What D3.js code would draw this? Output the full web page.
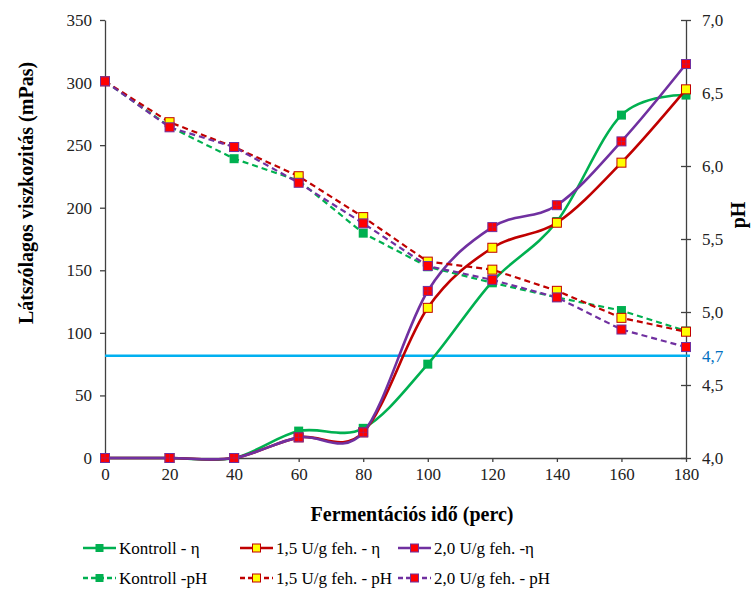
<!DOCTYPE html>
<html>
<head>
<meta charset="utf-8">
<script src="https://cdn.jsdelivr.net/npm/d3@7"></script>
<style>
  html, body { margin: 0; padding: 0; background: #fff; }
  svg { display: block; }
  text { font-family: "Liberation Serif", "Times New Roman", serif; fill: #000; }
</style>
</head>
<body>
<svg id="chart" width="752" height="590" font-family="Liberation Serif, serif"></svg>
<script>
// Fermentation time (min)
const time = [0, 20, 40, 60, 80, 100, 120, 140, 160, 180];

// Apparent viscosity (mPas), left axis
const viscKontroll = [0, 0, 0, 21.5, 23.7, 75, 141, 189, 274, 290];
const visc15 = [0, 0, 0, 16.5, 20.5, 120, 168, 188, 236, 294.6];
const visc20 = [0, 0, 0, 16.5, 20.5, 133.5, 184.5, 202, 253, 314.8];

// pH, right axis
const phKontroll = [6.58, 6.27, 6.05, 5.90, 5.54, 5.31, 5.20, 5.10, 5.01, 4.87];
const ph15 = [6.58, 6.30, 6.13, 5.93, 5.65, 5.345, 5.29, 5.145, 4.96, 4.865];
const ph20 = [6.58, 6.265, 6.13, 5.885, 5.607, 5.315, 5.22, 5.10, 4.88, 4.76];

// Reference pH level
const phLimit = 4.7;
const phLimitLabel = "4,7";

const xTicks = [0, 20, 40, 60, 80, 100, 120, 140, 160, 180];
const yLeftTicks = [0, 50, 100, 150, 200, 250, 300, 350];
const yRightTicks = [4.0, 4.5, 5.0, 5.5, 6.0, 6.5, 7.0];

const seriesNames = [
  "Kontroll - η", "1,5 U/g feh. - η", "2,0 U/g feh. -η",
  "Kontroll -pH", "1,5 U/g feh. - pH", "2,0 U/g feh. -  pH"
];

const svg = d3.select("#chart");
const serif = "Liberation Serif, Times New Roman, serif";
const fmt = d => d.toFixed(1).replace(".", ",");

const x = d3.scaleLinear().domain([0, 180]).range([105, 686]);
const yL = d3.scaleLinear().domain([0, 350]).range([458, 20]);
const yR = d3.scaleLinear().domain([4, 7]).range([458, 20]);

const axisColor = "#404040";

// Series styling
const styles = [
  { line: "#00b050", fill: "#00b050", stroke: "#00b050", dash: null, cross: false },
  { line: "#c00000", fill: "#ffff00", stroke: "#c00000", dash: null, cross: false },
  { line: "#7030a0", fill: "#ff0000", stroke: "#7030a0", dash: null, cross: true },
  { line: "#00b050", fill: "#00b050", stroke: "#00b050", dash: "6,4", cross: false },
  { line: "#c00000", fill: "#ffff00", stroke: "#c00000", dash: "6,4", cross: false },
  { line: "#7030a0", fill: "#ff0000", stroke: "#7030a0", dash: "6,4", cross: false }
];

const series = [
  { values: viscKontroll, y: yL, smooth: true },
  { values: visc15, y: yL, smooth: true },
  { values: visc20, y: yL, smooth: true },
  { values: phKontroll, y: yR, smooth: false },
  { values: ph15, y: yR, smooth: false },
  { values: ph20, y: yR, smooth: false }
];

// Axes
const gx = svg.append("g").attr("transform", "translate(0,458)")
  .call(d3.axisBottom(x).tickValues(xTicks).tickSize(4).tickSizeOuter(0).tickFormat(d3.format("d")));
gx.selectAll("text").attr("y", 10).attr("dy", "0.71em");

const gl = svg.append("g").attr("transform", "translate(105,0)")
  .call(d3.axisLeft(yL).tickValues(yLeftTicks).tickSize(5).tickSizeOuter(0).tickFormat(d3.format("d")));
gl.selectAll("text").attr("x", -13);

const gr = svg.append("g").attr("transform", "translate(686,0)")
  .call(d3.axisRight(yR).tickValues(yRightTicks).tickSize(5).tickSizeOuter(0).tickFormat(fmt));
gr.selectAll(".tick line").attr("x1", -5).attr("x2", 5);
gr.selectAll("text").attr("x", 16);

[gx, gl, gr].forEach(g => {
  g.attr("font-family", serif).attr("font-size", 17);
  g.select(".domain").attr("stroke", axisColor).attr("stroke-width", 1.3);
  g.selectAll(".tick line").attr("stroke", axisColor).attr("stroke-width", 1.3);
  g.selectAll("text").attr("fill", "#222").style("fill", "#222");
});

// pH 4,7 reference line
svg.append("line")
  .attr("x1", x(0)).attr("x2", x(180) + 4)
  .attr("y1", yR(phLimit)).attr("y2", yR(phLimit))
  .attr("stroke", "#00b0f0").attr("stroke-width", 2.5);
svg.append("text")
  .attr("x", 702).attr("y", yR(phLimit)).attr("dy", "0.35em")
  .attr("font-family", serif).style("font-size", "17px")
  .style("fill", "#0070c0")
  .text(phLimitLabel);

// Series lines and markers
const plot = svg.append("g");
series.forEach((s, i) => {
  const st = styles[i];
  const pts = time.map((t, k) => [t, s.values[k]]);
  const line = d3.line()
    .x(d => x(d[0])).y(d => s.y(d[1]))
    .curve(s.smooth ? d3.curveCardinal.tension(0) : d3.curveLinear);
  plot.append("path")
    .attr("d", line(pts))
    .attr("fill", "none")
    .attr("stroke", st.line)
    .attr("stroke-width", s.smooth ? 2.6 : 2.2)
    .attr("stroke-dasharray", st.dash);
  const m = 9;
  const mk = plot.selectAll(null).data(pts).enter().append("g")
    .attr("transform", d => `translate(${x(d[0])},${s.y(d[1])})`);
  mk.append("rect")
    .attr("x", -m / 2).attr("y", -m / 2)
    .attr("width", m).attr("height", m)
    .attr("fill", st.fill)
    .attr("stroke", st.stroke)
    .attr("stroke-width", i === 0 || i === 3 ? 0 : 1);
  if (st.cross) {
    mk.append("path")
      .attr("d", `M${-m / 2},0H${m / 2}M0,${-m / 2}V${m / 2}`)
      .attr("stroke", "#7030a0").attr("stroke-opacity", 0.55).attr("stroke-width", 0.8);
  }
});

// Axis titles
svg.append("text")
  .attr("transform", "translate(33,193) rotate(-90)")
  .attr("text-anchor", "middle")
  .style("font-size", "20px").style("font-weight", "bold")
  .text("Látszólagos viszkozitás  (mPas)");

svg.append("text")
  .attr("transform", "translate(745,215) rotate(-90)")
  .attr("text-anchor", "middle")
  .style("font-size", "20px").style("font-weight", "bold")
  .text("pH");

svg.append("text")
  .attr("x", 412).attr("y", 521)
  .attr("text-anchor", "middle")
  .style("font-size", "20px").style("font-weight", "bold")
  .text("Fermentációs idő (perc)");

// Legend
const legendCols = [83, 240, 398];
const legendRows = [548, 578];
const legend = svg.append("g");
seriesNames.forEach((name, i) => {
  const st = styles[i];
  const lx = legendCols[i % 3];
  const ly = legendRows[Math.floor(i / 3)];
  const g = legend.append("g");
  g.append("line")
    .attr("x1", lx).attr("x2", lx + 33)
    .attr("y1", ly).attr("y2", ly)
    .attr("stroke", st.line).attr("stroke-width", 2.4)
    .attr("stroke-dasharray", st.dash ? "5,3" : null);
  const m = 8;
  g.append("rect")
    .attr("x", lx + 16.5 - m / 2).attr("y", ly - m / 2)
    .attr("width", m).attr("height", m)
    .attr("fill", st.fill).attr("stroke", st.stroke)
    .attr("stroke-width", i === 0 || i === 3 ? 0 : 1);
  g.append("text")
    .attr("x", lx + 36).attr("y", ly).attr("dy", "0.35em")
    .style("font-size", "17px")
    .text(name);
});
</script>
</body>
</html>
